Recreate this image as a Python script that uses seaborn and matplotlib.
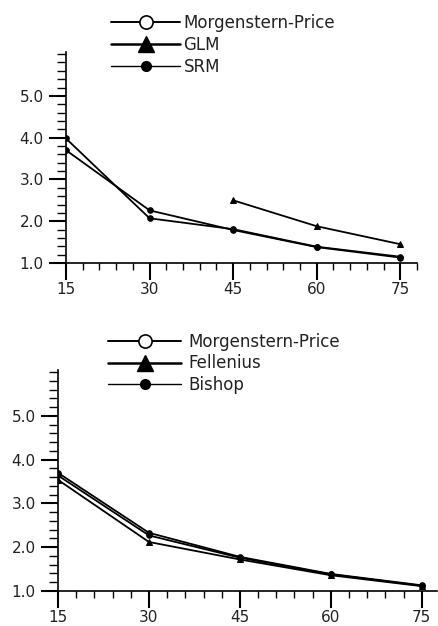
import numpy as np
import pandas as pd
import matplotlib
matplotlib.use("Agg")
import matplotlib.pyplot as plt
from matplotlib.lines import Line2D
from matplotlib.ticker import MultipleLocator, FormatStrFormatter
import seaborn as sns

# ---- data ----
angles = [15, 30, 45, 60, 75]
top_methods = ["Morgenstern-Price", "GLM", "SRM"]
top_mp = [3.98, 2.07, 1.81, 1.39, 1.15]
top_srm = [3.70, 2.26, 1.79, 1.38, 1.13]
top_glm_angles = [45, 60, 75]
top_glm = [2.50, 1.88, 1.45]

bot_methods = ["Morgenstern-Price", "Fellenius", "Bishop"]
bot_mp = [3.64, 2.27, 1.76, 1.38, 1.12]
bot_fel = [3.54, 2.12, 1.72, 1.36, 1.11]
bot_bis = [3.70, 2.33, 1.78, 1.39, 1.13]

y_ticks = [1.0, 2.0, 3.0, 4.0, 5.0]
x_ticks = [15, 30, 45, 60, 75]

sns.set_style("ticks")
plt.rcParams["font.family"] = ["DejaVu Sans"]

top_df = pd.concat([
    pd.DataFrame({"angle": angles, "fs": top_mp, "method": top_methods[0]}),
    pd.DataFrame({"angle": top_glm_angles, "fs": top_glm, "method": top_methods[1]}),
    pd.DataFrame({"angle": angles, "fs": top_srm, "method": top_methods[2]}),
])
bot_df = pd.concat([
    pd.DataFrame({"angle": angles, "fs": bot_mp, "method": bot_methods[0]}),
    pd.DataFrame({"angle": angles, "fs": bot_fel, "method": bot_methods[1]}),
    pd.DataFrame({"angle": angles, "fs": bot_bis, "method": bot_methods[2]}),
])

fig = plt.figure(figsize=(4.38, 6.26), dpi=100)
ax1 = fig.add_axes([66/438, 1 - 263/626, 351/438, 211/626])
ax2 = fig.add_axes([58/438, 1 - 591/626, 379/438, 221/626])


def draw(ax, df, methods, xmax):
    marks = {methods[0]: "o", methods[1]: "^", methods[2]: "o"}
    sns.lineplot(data=df, x="angle", y="fs", style="method", hue="method",
                 palette={m: "black" for m in methods}, markers=marks,
                 dashes=False, markersize=4, linewidth=1.3, ax=ax,
                 legend=False, markeredgecolor="black", markerfacecolor="black")
    ax.set_xlim(15, xmax)
    ax.set_ylim(1.0, 6.05)
    ax.set_xticks(x_ticks)
    ax.set_yticks(y_ticks)
    ax.xaxis.set_minor_locator(MultipleLocator(3))
    ax.yaxis.set_minor_locator(MultipleLocator(0.2))
    ax.yaxis.set_major_formatter(FormatStrFormatter("%.1f"))
    ax.set_xlabel("")
    ax.set_ylabel("")
    for s in ["top", "right"]:
        ax.spines[s].set_visible(False)
    for s in ["left", "bottom"]:
        ax.spines[s].set_linewidth(1.2)
        ax.spines[s].set_color("black")
    ax.tick_params(axis="both", which="major", direction="out", length=12,
                   width=1.5, colors="black", labelsize=11, pad=2,
                   labelcolor="#222222")
    ax.tick_params(axis="both", which="minor", direction="out", length=5,
                   width=1.0, colors="black")
    ax.tick_params(axis="y", which="minor", length=6.5)
    ax.tick_params(axis="y", which="major", pad=4)
    ax.set_facecolor("white")


draw(ax1, top_df, top_methods, 78)
draw(ax2, bot_df, bot_methods, 77.5)


def legend(methods, x_left, y_top, hlen, hpad, lsp):
    handles = [
        Line2D([], [], color="black", lw=1.4, marker="o", markersize=9.5,
               markerfacecolor="white", markeredgecolor="black", markeredgewidth=1.2),
        Line2D([], [], color="black", lw=1.8, marker="^", markersize=11,
               markerfacecolor="black", markeredgecolor="black"),
        Line2D([], [], color="black", lw=1.0, marker="o", markersize=7,
               markerfacecolor="black", markeredgecolor="black"),
    ]
    leg = fig.legend(handles, methods, loc="upper left",
                     bbox_to_anchor=(x_left/438, 1 - y_top/626), frameon=False,
                     fontsize=12, handlelength=hlen, handletextpad=hpad,
                     labelspacing=lsp, borderaxespad=0, borderpad=0)
    for t in leg.get_texts():
        t.set_color("#222222")


legend(top_methods, 111, 14, 4.15, 0.2, 0.24)
legend(bot_methods, 108, 333, 4.4, 0.45, 0.2)

fig.savefig("out.png", dpi=100, facecolor="white")
